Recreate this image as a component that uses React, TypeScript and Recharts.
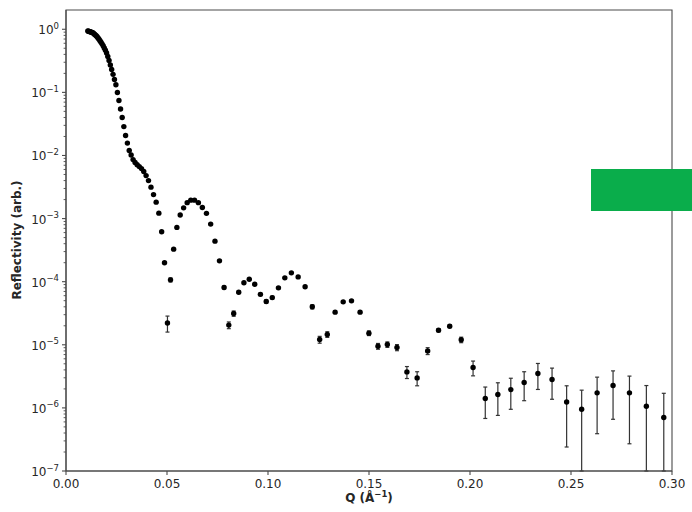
import React from 'react';
import { ScatterChart, Scatter, XAxis, YAxis, ErrorBar, ReferenceArea } from 'recharts';

// Momentum transfer Q (Å^-1)
const qValues = [
  0.0108, 0.01112, 0.01146, 0.0118, 0.01216, 0.01252, 0.0129, 0.01328, 0.01368, 0.01409,
  0.01451, 0.01495, 0.0154, 0.01586, 0.01634, 0.01683, 0.01733, 0.01785, 0.01839, 0.01894,
  0.01951, 0.02009, 0.02069, 0.02131, 0.02195, 0.02261, 0.02329, 0.02399, 0.02471, 0.02545,
  0.02621, 0.027, 0.02781, 0.02864, 0.0295, 0.03039, 0.0313, 0.03224, 0.03321, 0.0342,
  0.03523, 0.03629, 0.03738, 0.0385, 0.03965, 0.04084, 0.04207, 0.04333, 0.04463, 0.04597,
  0.04735, 0.04877, 0.05023, 0.05174, 0.05329, 0.05489, 0.05653, 0.05823, 0.05998, 0.06178,
  0.06363, 0.06554, 0.0675, 0.06953, 0.07162, 0.07376, 0.07598, 0.07826, 0.0806, 0.08302,
  0.08551, 0.08808, 0.09072, 0.09344, 0.09625, 0.09913, 0.10211, 0.10517, 0.10833, 0.11157,
  0.11492, 0.11837, 0.12192, 0.12558, 0.12935, 0.13323, 0.13722, 0.14134, 0.14558, 0.14995,
  0.15445, 0.15908, 0.16385, 0.16877, 0.17383, 0.17904, 0.18442, 0.18995, 0.19565, 0.20152,
  0.20756, 0.21379, 0.2202, 0.22681, 0.23361, 0.24062, 0.24784, 0.25528, 0.26293, 0.27082,
  0.27894, 0.28731, 0.29593,
];

// Measured reflectivity (arb.)
const reflectivity = [
  0.94, 0.933, 0.926, 0.916, 0.906, 0.9, 0.893, 0.88, 0.858, 0.836,
  0.812, 0.792, 0.76, 0.728, 0.694, 0.659, 0.624, 0.587, 0.547, 0.505,
  0.466, 0.421, 0.37, 0.32, 0.272, 0.231, 0.193, 0.16, 0.132, 0.0995,
  0.0743, 0.0545, 0.0399, 0.0287, 0.0207, 0.0157, 0.012, 0.0102, 0.0086, 0.00772,
  0.00713, 0.00667, 0.0062, 0.00556, 0.0048, 0.004, 0.00315, 0.0024, 0.00182, 0.00122,
  6.17e-4, 2.0e-4, 2.22e-5, 1.07e-4, 3.28e-4, 7.25e-4, 1.14e-3, 1.48e-3, 1.79e-3, 1.96e-3,
  1.96e-3, 1.79e-3, 1.5e-3, 1.21e-3, 8.17e-4, 4.39e-4, 2.14e-4, 8.1e-5, 2.05e-5, 3.13e-5,
  6.8e-5, 9.6e-5, 1.09e-4, 9.1e-5, 6.3e-5, 4.86e-5, 5.6e-5, 7.98e-5, 1.15e-4, 1.38e-4,
  1.19e-4, 8.3e-5, 4.0e-5, 1.21e-5, 1.46e-5, 3.29e-5, 4.79e-5, 4.97e-5, 3.29e-5, 1.53e-5,
  9.5e-6, 1.01e-5, 9.06e-6, 3.72e-6, 2.99e-6, 8.0e-6, 1.7e-5, 1.97e-5, 1.2e-5, 4.37e-6,
  1.41e-6, 1.63e-6, 1.95e-6, 2.52e-6, 3.51e-6, 2.82e-6, 1.24e-6, 9.5e-7, 1.73e-6, 2.26e-6,
  1.73e-6, 1.06e-6, 7.03e-7,
];

// One-sigma uncertainty on each reflectivity point
const uncertainty = [
  0, 0, 0, 0, 0, 0, 0, 0, 0, 0,
  0, 0, 0, 0, 0, 0, 0, 0, 0, 0,
  0, 0, 0, 0, 0, 0, 0, 0, 0, 0,
  0, 0, 0, 0, 0, 0, 0, 0, 0, 0,
  0, 0, 0, 0, 0, 0, 0, 0, 0, 0,
  0, 4e-6, 6.3e-6, 8e-6, 5e-6, 4e-6, 4e-6, 4e-6, 4e-6, 4e-6,
  4e-6, 4e-6, 4e-6, 4e-6, 4e-6, 4e-6, 4e-6, 4e-6, 2.5e-6, 3e-6,
  3e-6, 3e-6, 3e-6, 3e-6, 3e-6, 3e-6, 3e-6, 3e-6, 3e-6, 3e-6,
  3e-6, 3e-6, 3e-6, 1.5e-6, 1.5e-6, 1.5e-6, 1.5e-6, 1.5e-6, 1.5e-6, 1.3e-6,
  1.0e-6, 1.0e-6, 1.0e-6, 8e-7, 7.5e-7, 1.0e-6, 1.0e-6, 1.0e-6, 1.2e-6, 1.15e-6,
  7.3e-7, 8.7e-7, 1.0e-6, 1.22e-6, 1.55e-6, 1.45e-6, 1.0e-6, 9.6e-7, 1.34e-6, 1.6e-6,
  1.46e-6, 1.2e-6, 1.0e-6,
];

const xTicks = [0, 0.05, 0.1, 0.15, 0.2, 0.25, 0.3];
const yMajorTicks = [1e-7, 1e-6, 1e-5, 1e-4, 1e-3, 1e-2, 1e-1, 1];
const minorMultipliers = [2, 3, 4, 5, 6, 7, 8, 9];

const Y_MIN = 1e-7;
const Y_MAX = 2.02;
const X_MIN = 0;
const X_MAX = 0.3;

const FONT = '"DejaVu Sans", sans-serif';
const TEXT = '#262626';
const AXIS = '#4a4a4a';

const yMinorTicks = yMajorTicks
  .slice(0, -1)
  .flatMap((d) => minorMultipliers.map((m) => m * d));
const yTicks = [...yMajorTicks, ...yMinorTicks].sort((a, b) => a - b);

// Lower error arms stop at the bottom of the log axis
const data = qValues.map((q, i) => ({
  q,
  r: reflectivity[i],
  err: [Math.min(uncertainty[i], reflectivity[i] - Y_MIN), uncertainty[i]],
}));

const LogTick = (props: any) => {
  const { x, y, payload } = props;
  const v = payload.value as number;
  const lg = Math.log10(v);
  const exp = Math.round(lg);
  const major = Math.abs(lg - exp) < 1e-6;
  const expText = exp === 0 ? '0' : '\u2212' + String(-exp);
  return (
    <g>
      <line
        x1={x - (major ? 4 : 2.4)}
        x2={x}
        y1={y}
        y2={y}
        stroke={AXIS}
        strokeWidth={major ? 1.1 : 0.9}
      />
      {major && (
        <text x={x - 7} y={y + 5} textAnchor="end" fontFamily={FONT} fontSize={12} fill={TEXT}>
          10
          <tspan dy={-5.5} fontSize={8.5}>
            {expText}
          </tspan>
        </text>
      )}
    </g>
  );
};

const Dot = (props: any) => {
  const { cx, cy } = props;
  if (cx == null || cy == null) return null;
  return <circle cx={cx} cy={cy} r={2.7} fill="#000" />;
};

export default function App() {
  return (
    <div style={{ position: 'absolute', left: 0, top: 0, width: 692, height: 512, background: '#fff' }}>
      <ScatterChart
        width={692}
        height={512}
        margin={{ top: 10, right: 20, bottom: 0, left: 0 }}
      >
        <XAxis
          type="number"
          dataKey="q"
          domain={[X_MIN, X_MAX]}
          ticks={xTicks}
          allowDataOverflow
          height={41}
          axisLine={{ stroke: AXIS, strokeWidth: 1.1 }}
          tickLine={{ stroke: AXIS, strokeWidth: 1.1 }}
          tickSize={4}
          tickMargin={4}
          tickFormatter={(v: number) => v.toFixed(2)}
          tick={{ fontFamily: FONT, fontSize: 12, fill: TEXT }}
          interval={0}
          label={{
            content: () => (
              <text x={369} y={502} textAnchor="middle" fontFamily={FONT} fontSize={12} fontWeight="bold" fill={TEXT}>
                Q (Å
                <tspan dy={-5} fontSize={8.5}>
                  {'\u2212'}1
                </tspan>
                <tspan dy={5}>)</tspan>
              </text>
            ),
          }}
        />
        <YAxis
          type="number"
          dataKey="r"
          scale="log"
          domain={[Y_MIN, Y_MAX]}
          ticks={yTicks}
          allowDataOverflow
          width={66}
          axisLine={{ stroke: AXIS, strokeWidth: 1.1 }}
          tickLine={false}
          tickSize={0}
          tickMargin={0}
          tick={<LogTick />}
          interval={0}
          label={{
            content: () => (
              <text
                x={21}
                y={240}
                transform="rotate(-90 21 240)"
                textAnchor="middle"
                fontFamily={FONT}
                fontSize={12}
                fontWeight="bold"
                fill={TEXT}
              >
                Reflectivity (arb.)
              </text>
            ),
          }}
        />
        <ReferenceArea
          x1={X_MIN}
          x2={X_MAX}
          y1={Y_MIN}
          y2={Y_MAX}
          fill="none"
          stroke={AXIS}
          strokeWidth={1.1}
          ifOverflow="visible"
        />
        <Scatter data={data} shape={<Dot />} isAnimationActive={false}>
          <ErrorBar
            dataKey="err"
            direction="y"
            width={2}
            stroke="#333"
            strokeWidth={1.2}
            isAnimationActive={false}
          />
        </Scatter>
      </ScatterChart>
      <div
        style={{
          position: 'absolute',
          left: 591,
          top: 169,
          width: 101,
          height: 42,
          background: '#0aad4b',
        }}
      />
    </div>
  );
}
